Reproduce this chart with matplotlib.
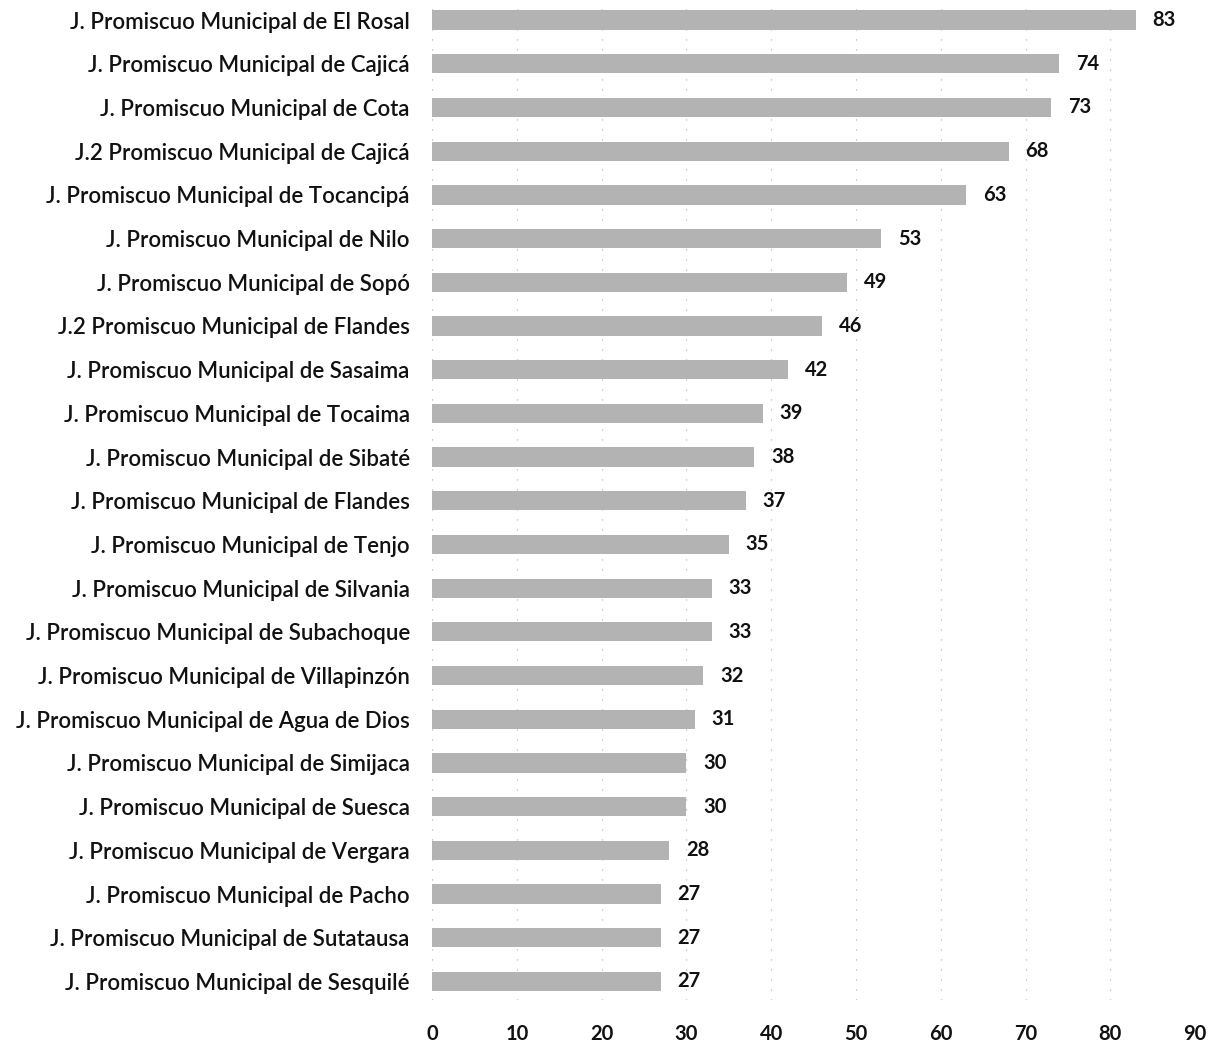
import matplotlib
matplotlib.use("Agg")
import matplotlib.pyplot as plt

# data, top to bottom
juzgados = [
    "J. Promiscuo Municipal de El Rosal",
    "J. Promiscuo Municipal de Cajicá",
    "J. Promiscuo Municipal de Cota",
    "J.2 Promiscuo Municipal de Cajicá",
    "J. Promiscuo Municipal de Tocancipá",
    "J. Promiscuo Municipal de Nilo",
    "J. Promiscuo Municipal de Sopó",
    "J.2 Promiscuo Municipal de Flandes",
    "J. Promiscuo Municipal de Sasaima",
    "J. Promiscuo Municipal de Tocaima",
    "J. Promiscuo Municipal de Sibaté",
    "J. Promiscuo Municipal de Flandes",
    "J. Promiscuo Municipal de Tenjo",
    "J. Promiscuo Municipal de Silvania",
    "J. Promiscuo Municipal de Subachoque",
    "J. Promiscuo Municipal de Villapinzón",
    "J. Promiscuo Municipal de Agua de Dios",
    "J. Promiscuo Municipal de Simijaca",
    "J. Promiscuo Municipal de Suesca",
    "J. Promiscuo Municipal de Vergara",
    "J. Promiscuo Municipal de Pacho",
    "J. Promiscuo Municipal de Sutatausa",
    "J. Promiscuo Municipal de Sesquilé",
]
valores = [83, 74, 73, 68, 63, 53, 49, 46, 42, 39, 38, 37, 35, 33, 33, 32, 31, 30, 30, 28, 27, 27, 27]
x_ticks = [0, 10, 20, 30, 40, 50, 60, 70, 80, 90]

plt.rcParams["font.family"] = ["Lato", "DejaVu Sans"]

fig = plt.figure(figsize=(12.18, 10.43), dpi=100)
ax = fig.add_axes([0.3547, 0.041, 0.6265, 0.959])

pos = list(range(len(valores)))
ax.barh(pos, valores, height=0.44, color="#b3b3b3", edgecolor="none", zorder=2)

for p, v in zip(pos, valores):
    ax.annotate(str(v), (v, p), xytext=(12, 0), textcoords="offset points",
                va="center", ha="left", fontsize=14.5, fontweight="bold", color="#111111")

ax.set_xlim(0, 90)
ax.set_ylim(22.43, -0.46)
ax.set_xticks(x_ticks)
ax.set_xticklabels([str(t) for t in x_ticks], fontsize=14.5, fontweight="bold", color="#111111")
ax.set_yticks(pos)
ax.set_yticklabels(juzgados, fontsize=16, fontweight="semibold", color="#111111")
ax.tick_params(axis="both", length=0)
ax.tick_params(axis="x", pad=17)
ax.tick_params(axis="y", pad=16)

for s in ax.spines.values():
    s.set_visible(False)

ax.xaxis.grid(True, color="#aaaaaa", linestyle=(0, (1, 8)), linewidth=0.8, zorder=0)
ax.set_axisbelow(True)

fig.savefig("out.png", dpi=100)
